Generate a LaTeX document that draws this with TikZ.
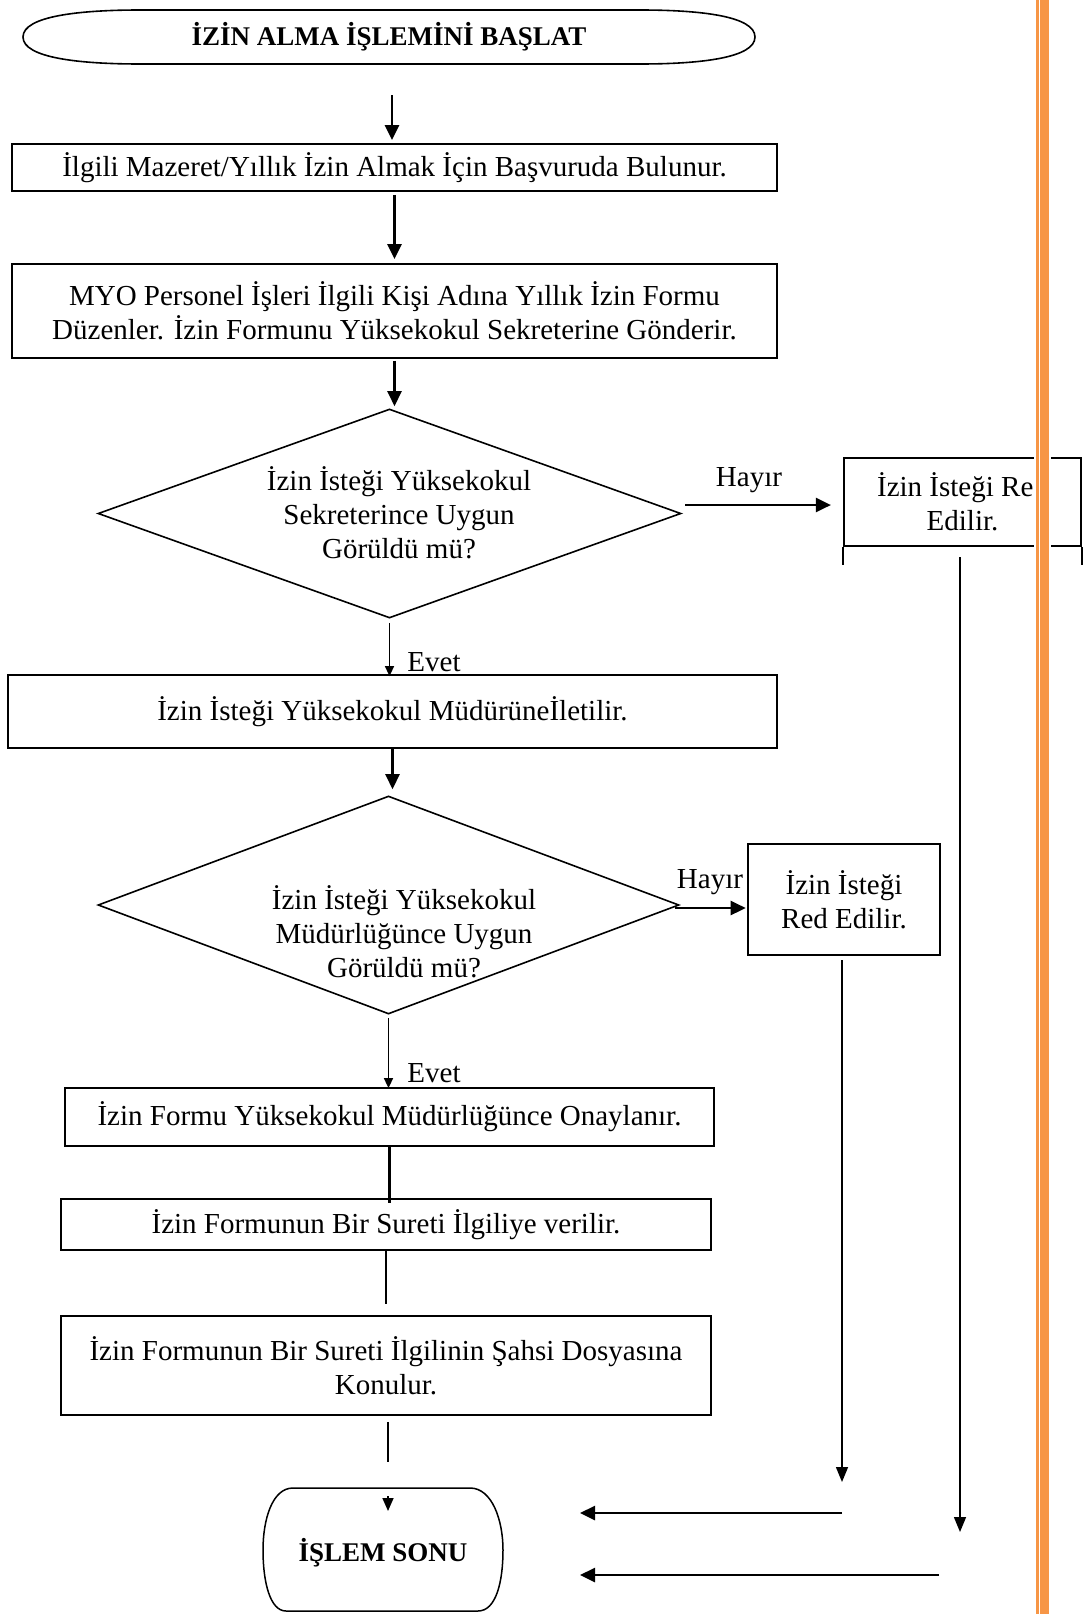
\documentclass[tikz,border=0pt]{standalone}
\usepackage{fontspec}
\setmainfont{Liberation Serif}
\usetikzlibrary{arrows.meta,shapes.geometric}
\definecolor{barorange}{HTML}{F79646}
\begin{document}
\begin{tikzpicture}[x=1pt,y=-1pt,
 every node/.style={font=\fontsize{29}{34}\selectfont},
 box/.style={draw, line width=1.8pt, inner sep=0pt, align=center},
 dia/.style={draw, diamond, line width=1.6pt, inner sep=0pt, aspect=2.8},
 flow/.style={line width=2.5pt, -{Triangle[length=15pt,width=14pt]}},
 smallflow/.style={line width=1.6pt, -{Triangle[length=10pt,width=9pt]}},
 plain/.style={line width=1.6pt},
 thinflow/.style={line width=1.5pt, -{Triangle[length=15pt,width=12pt]}},
 lbl/.style={inner sep=0pt},
 term/.style={inner sep=0pt, font=\fontsize{27}{30}\selectfont\bfseries}
]
\useasboundingbox (0,0) rectangle (1084,1614);
\clip (0,0) rectangle (1084,1614);
\fill[white] (0,0) rectangle (1084,1614);

% start terminator
\draw[line width=1.6pt] (23,37) .. controls (23,16) and (80,10) .. (140,10) -- (640,10)
  .. controls (700,10) and (755,16) .. (755,37) .. controls (755,58) and (700,64) .. (640,64)
  -- (140,64) .. controls (80,64) and (23,58) .. (23,37);
\node[term] (start) at (389,37) {İZİN ALMA İŞLEMİNİ BAŞLAT};
\coordinate (startbot) at (392,64);

% process boxes
\node[box, minimum width=765pt, minimum height=47pt] (b1) at (394.5,167.5)
  {İlgili Mazeret/Yıllık İzin Almak İçin Başvuruda Bulunur.};
\node[box, minimum width=765pt, minimum height=94pt] (b2) at (394.5,311)
  {MYO Personel İşleri İlgili Kişi Adına Yıllık İzin Formu\\Düzenler. İzin Formunu Yüksekokul Sekreterine Gönderir.};
\node[dia, minimum width=583pt, minimum height=209pt] (d1) at (389.5,513.5) {};
\node[lbl, align=center] (d1t) at (399,513) {İzin İsteği Yüksekokul\\Sekreterince Uygun\\Görüldü mü?};
\node[box, line width=2.2pt, minimum width=237pt, minimum height=88pt] (b3) at (962.5,502)
  {İzin İsteği Red\\Edilir.};
\draw[line width=2.2pt] (b3.south west) -- ++(0,18);
\draw[line width=2.2pt] (b3.south east) -- ++(0,18);
\node[box, minimum width=769pt, minimum height=73pt] (b4) at (392.5,711.5)
  {İzin İsteği Yüksekokul Müdürüneİletilir.};
\node[dia, minimum width=581pt, minimum height=218pt] (d2) at (388.5,905) {};
\node[lbl, align=center] (d2t) at (404,932) {İzin İsteği Yüksekokul\\Müdürlüğünce Uygun\\Görüldü mü?};
\node[box, line width=2.6pt, minimum width=192pt, minimum height=111pt] (b5) at (844,899.5)
  {İzin İsteği\\Red Edilir.};
\node[box, minimum width=649pt, minimum height=58pt] (b6) at (389.5,1117)
  {İzin Formu Yüksekokul Müdürlüğünce Onaylanır.};
\node[box, minimum width=650pt, minimum height=51pt] (b7) at (386,1224.5)
  {İzin Formunun Bir Sureti İlgiliye verilir.};
\node[box, minimum width=650pt, minimum height=99pt] (b8) at (386,1365.5)
  {İzin Formunun Bir Sureti İlgilinin Şahsi Dosyasına\\Konulur.};

% main flow connectors
\draw[flow, shorten <=31pt, shorten >=3pt] (startbot) -- (startbot |- b1.north);
\draw[flow, shorten <=3pt, shorten >=4pt] (b1.south) -- (b1.south |- b2.north);
\draw[flow, shorten <=2pt, shorten >=2pt] (b2.south) -- (b2.south |- d1.north);
\draw[smallflow, shorten <=4pt, shorten >=-2pt] (d1.south) -- (d1.south |- b4.north);
\node[lbl] (evet1) at (434,662) {Evet};
\draw[flow, shorten >=6pt] (b4.south) -- (b4.south |- d2.north);
\draw[smallflow, shorten <=3pt, shorten >=-1pt] (d2.south) -- (d2.south |- b6.north);
\node[lbl] (evet2) at (434,1073) {Evet};
\draw[plain, line width=2.2pt, shorten >=-5pt] (b6.south) -- (b6.south |- b7.north);
\draw[plain, shorten >=11pt] (b7.south) -- (b7.south |- b8.north);

% no branches
\coordinate (h1s) at (685,505);
\draw[flow, shorten >=12pt] (h1s) -- (h1s -| b3.west);
\node[lbl] (hayir1) at (749,480) {Hayır};
\coordinate (h2s) at (675,908);
\draw[flow, shorten >=1pt] (h2s) -- (h2s -| b5.west);
\node[lbl] (hayir2) at (710,882) {Hayır};

% long return lines
\coordinate (r1a) at (960,557);
\coordinate (r1b) at (960,1532);
\draw[thinflow] (r1a) -- (r1b);
\coordinate (r2a) at (842,960);
\coordinate (r2b) at (842,1482);
\draw[thinflow] (r2a) -- (r2b);
\coordinate (ret1s) at (842,1513);
\coordinate (ret1e) at (580,1513);
\draw[flow] (ret1s) -- (ret1e);
\coordinate (ret2s) at (939,1575);
\coordinate (ret2e) at (580,1575);
\draw[flow] (ret2s) -- (ret2e);

% end terminator
\coordinate (endtop) at (388,1488);
\draw[plain] ([yshift=-6pt]b8.south -| endtop) -- ([yshift=26pt]endtop);
\draw[line width=1.5pt, fill=white] (293,1488) -- (470,1488)
  .. controls (492,1488) and (503,1520) .. (503,1550)
  .. controls (503,1582) and (496,1611) .. (478,1611) -- (286,1611)
  .. controls (270,1611) and (263,1582) .. (263,1550)
  .. controls (263,1520) and (272,1488) .. (293,1488) -- cycle;
\node[term] (end) at (383,1553) {İŞLEM SONU};
\coordinate (tipa) at (388,1496);
\coordinate (tipb) at (388,1511);
\draw[smallflow, -{Triangle[length=13pt,width=11pt]}] (tipa) -- (tipb);

% orange side bar
\fill[white] (1034,0) rectangle (1051,1614);
\fill[barorange] (1036,0) rectangle (1038.5,1614);
\fill[barorange] (1040,0) rectangle (1049,1614);
\end{tikzpicture}
\end{document}
